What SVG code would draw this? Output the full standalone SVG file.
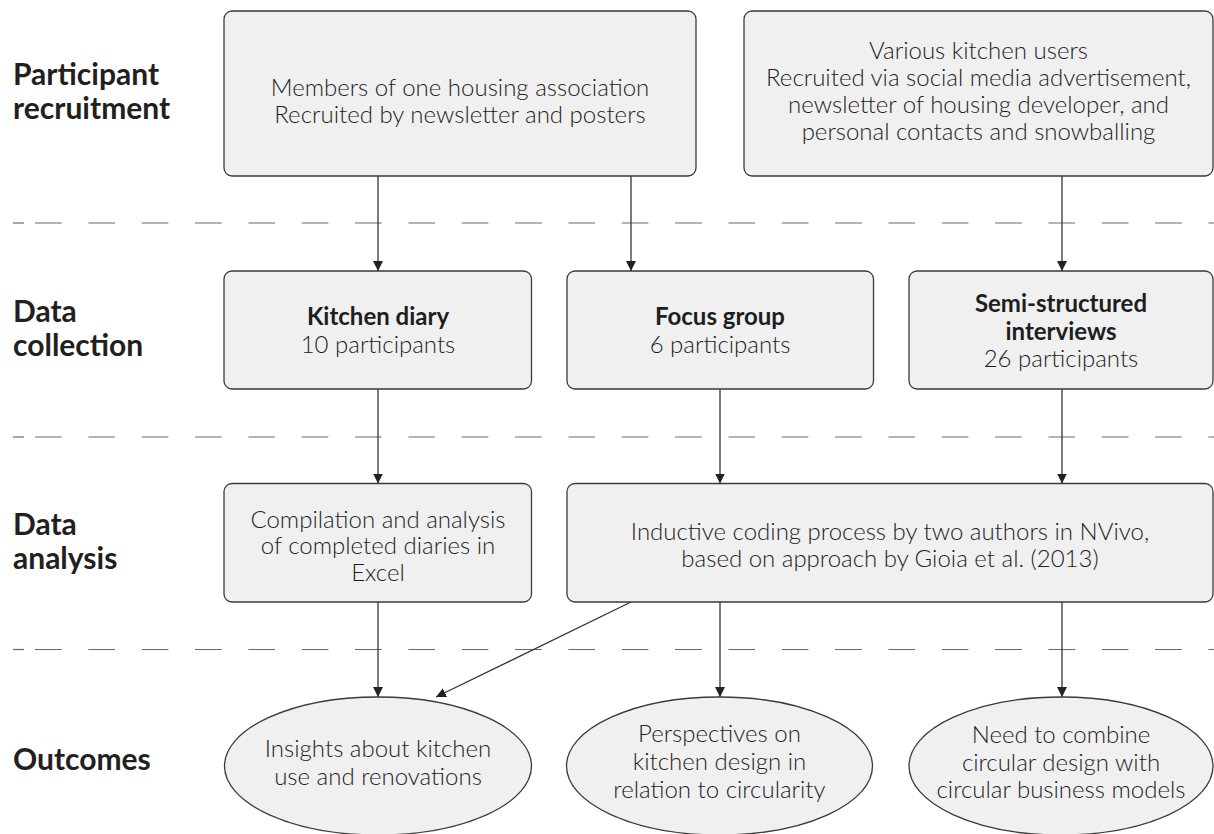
<svg xmlns="http://www.w3.org/2000/svg" width="1214" height="834" viewBox="0 0 1214 834">
  <defs>
    <style>
      .box { fill: #eff0ef; stroke: #3a3a3a; stroke-width: 1.3; }
      .t { font-family: Lato, "Liberation Sans", sans-serif; font-weight: 300; font-size: 24px; fill: #1e1e1e; text-anchor: middle; }
      .b { font-weight: 700; }
      .lab { font-family: Lato, "Liberation Sans", sans-serif; font-weight: 700; font-size: 30px; fill: #231f20; }
      .dash { stroke: #6a6a6a; stroke-width: 1.2; stroke-dasharray: 26.67 26.67; fill: none; }
      .con { stroke: #333; stroke-width: 1.3; fill: none; marker-end: url(#ah); }
    </style>
    <marker id="ah" markerWidth="10" markerHeight="10" viewBox="0 0 10 10" refX="10" refY="5" orient="auto" markerUnits="userSpaceOnUse">
      <path d="M0,0 L10,5 L0,10 z" fill="#222"/>
    </marker>
  </defs>
  <rect width="1214" height="834" fill="#ffffff"/>

  <g id="dividers">
    <line class="dash" x1="13" y1="223" x2="24" y2="223" stroke-dasharray="none"/>
    <line class="dash" x1="35" y1="223" x2="1214" y2="223"/>
    <line class="dash" x1="13" y1="437" x2="24" y2="437" stroke-dasharray="none"/>
    <line class="dash" x1="35" y1="437" x2="1214" y2="437"/>
    <line class="dash" x1="13" y1="649.5" x2="24" y2="649.5" stroke-dasharray="none"/>
    <line class="dash" x1="35" y1="649.5" x2="1214" y2="649.5"/>
  </g>

  <g id="labels">
    <text class="lab" x="13" y="85">Participant</text>
    <text class="lab" x="13" y="118.5">recruitment</text>
    <text class="lab" x="13" y="322">Data</text>
    <text class="lab" x="13" y="355.5">collection</text>
    <text class="lab" x="13" y="535">Data</text>
    <text class="lab" x="13" y="568.5">analysis</text>
    <text class="lab" x="13" y="770">Outcomes</text>
  </g>

  <g id="connectors">
    <line class="con" x1="378" y1="176" x2="378" y2="271"/>
    <line class="con" x1="631" y1="176" x2="631" y2="271"/>
    <line class="con" x1="1062" y1="176" x2="1062" y2="271"/>
    <line class="con" x1="378" y1="389" x2="378" y2="483.5"/>
    <line class="con" x1="720" y1="389" x2="720" y2="483.5"/>
    <line class="con" x1="1062" y1="389" x2="1062" y2="483.5"/>
    <line class="con" x1="378" y1="602" x2="378" y2="697"/>
    <line class="con" x1="631" y1="602" x2="436" y2="697"/>
    <line class="con" x1="720" y1="602" x2="720" y2="697"/>
    <line class="con" x1="1062" y1="602" x2="1062" y2="697"/>
  </g>

  <g id="recruit-housing">
    <rect class="box" x="224" y="11" width="472" height="165" rx="8"/>
    <text class="t" x="460" y="96">Members of one housing association</text>
    <text class="t" x="460" y="123">Recruited by newsletter and posters</text>
  </g>
  <g id="recruit-various">
    <rect class="box" x="744" y="11" width="469" height="165" rx="8"/>
    <text class="t" x="978.5" y="59">Various kitchen users</text>
    <text class="t" x="978.5" y="86">Recruited via social media advertisement,</text>
    <text class="t" x="978.5" y="112.5">newsletter of housing developer, and</text>
    <text class="t" x="978.5" y="139.5">personal contacts and snowballing</text>
  </g>

  <g id="kitchen-diary">
    <rect class="box" x="224" y="271" width="307.5" height="118" rx="8"/>
    <text class="t b" x="378" y="325">Kitchen diary</text>
    <text class="t" x="378" y="352.5">10 participants</text>
  </g>
  <g id="focus-group">
    <rect class="box" x="567" y="271" width="306.5" height="118" rx="8"/>
    <text class="t b" x="720" y="325">Focus group</text>
    <text class="t" x="720" y="352.5">6 participants</text>
  </g>
  <g id="interviews">
    <rect class="box" x="909" y="271" width="304" height="118" rx="8"/>
    <text class="t b" x="1061" y="311.5">Semi-structured</text>
    <text class="t b" x="1061" y="339.5">interviews</text>
    <text class="t" x="1061" y="367">26 participants</text>
  </g>

  <g id="compilation">
    <rect class="box" x="224" y="483.5" width="307.5" height="118.5" rx="8"/>
    <text class="t" x="378" y="527.5">Compilation and analysis</text>
    <text class="t" x="378" y="554">of completed diaries in</text>
    <text class="t" x="378" y="581">Excel</text>
  </g>
  <g id="inductive-coding">
    <rect class="box" x="567" y="483.5" width="646" height="118.5" rx="8"/>
    <text class="t" x="890" y="540">Inductive coding process by two authors in NVivo,</text>
    <text class="t" x="890" y="566.5">based on approach by Gioia et al. (2013)</text>
  </g>

  <g id="outcome-insights">
    <ellipse class="box" cx="378" cy="766" rx="153.5" ry="69"/>
    <text class="t" x="378" y="756.5">Insights about kitchen</text>
    <text class="t" x="378" y="785">use and renovations</text>
  </g>
  <g id="outcome-perspectives">
    <ellipse class="box" cx="719.5" cy="766" rx="153" ry="69"/>
    <text class="t" x="719.5" y="742">Perspectives on</text>
    <text class="t" x="719.5" y="770">kitchen design in</text>
    <text class="t" x="719.5" y="798">relation to circularity</text>
  </g>
  <g id="outcome-combine">
    <ellipse class="box" cx="1061" cy="766" rx="152" ry="69"/>
    <text class="t" x="1061" y="742.5">Need to combine</text>
    <text class="t" x="1061" y="770.5">circular design with</text>
    <text class="t" x="1061" y="797.5">circular business models</text>
  </g>
</svg>
